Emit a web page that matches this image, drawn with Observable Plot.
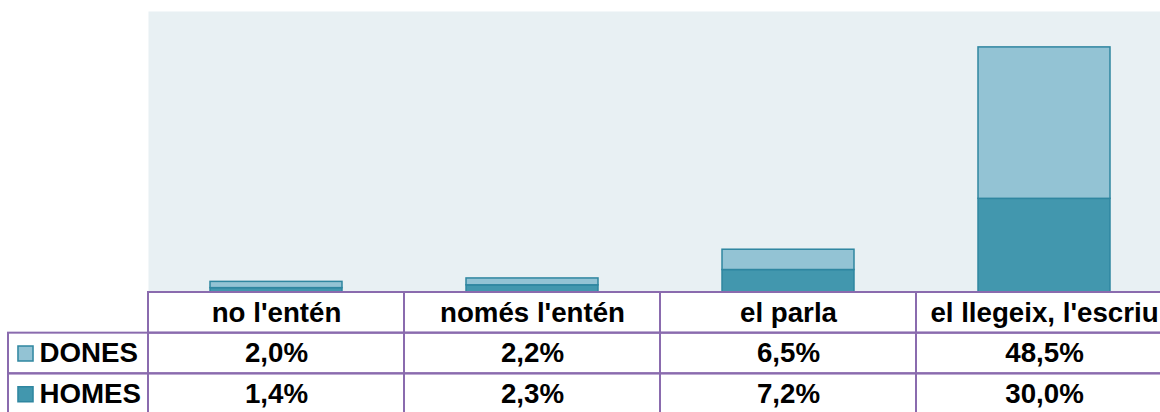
<!DOCTYPE html>
<html>
<head>
<meta charset="utf-8">
<script src="https://cdn.jsdelivr.net/npm/d3@7"></script>
<script src="https://cdn.jsdelivr.net/npm/@observablehq/plot@0.6"></script>
<style>
  html, body { margin: 0; padding: 0; background: #ffffff; overflow: hidden; }
  #wrap { width: 1160px; height: 412px; overflow: hidden; position: relative; }
  #wrap svg { display: block; max-width: none !important; }
</style>
</head>
<body>
<div id="wrap"></div>
<script>
// ---- data ----
const categories = ["no l'entén", "només l'entén", "el parla", "el llegeix, l'escriu"];
const series = ["DONES", "HOMES"];
const dones = [2.0, 2.2, 6.5, 48.5];
const homes = [1.4, 2.3, 7.2, 30.0];

// ---- styles ----
const colors = { DONES: "#93C3D4", HOMES: "#4297AE" };
const barStroke = "#2F86A0";
const lineColor = "#8A6BAE";
const bgColor = "#E8F0F3";
const font = "Liberation Sans, Arial, sans-serif";
const fs = 27.7;

const long = [];
categories.forEach((c, i) => {
  long.push({ cat: c, sex: "HOMES", value: homes[i] });
  long.push({ cat: c, sex: "DONES", value: dones[i] });
});

const wrap = document.getElementById("wrap");

// ---- bar chart ----
const chart = Plot.plot({
  width: 1172,
  height: 292,
  marginLeft: 148,
  marginRight: 0,
  marginTop: 11,
  marginBottom: 0,
  style: { fontFamily: font, background: "transparent", maxWidth: "none" },
  x: { domain: categories, paddingInner: 0.484, paddingOuter: 0.242, axis: null },
  y: { domain: [0, 90], axis: null },
  color: { domain: series, range: series.map(s => colors[s]) },
  marks: [
    Plot.frame({ fill: bgColor, stroke: null }),
    Plot.barY(long, Plot.stackY({
      x: "cat", y: "value", fill: "sex",
      order: ["HOMES", "DONES"],
      stroke: barStroke, strokeWidth: 1.5
    }))
  ]
});
wrap.appendChild(chart);

// ---- data table ----
const rows = ["header", ...series];
const labelW = 140 / 256;
const cells = [];
rows.forEach((r, ri) => {
  categories.forEach((c, ci) => {
    const text = r === "header" ? c
      : (r === "DONES" ? dones[ci] : homes[ci]).toFixed(1).replace(".", ",") + "%";
    cells.push({ x1: ci, x2: ci + 1, y1: ri, y2: ri + 1, text });
  });
});
const labelCells = series.map(s => ({ x1: -labelW, x2: 0, y1: rows.indexOf(s), y2: rows.indexOf(s) + 1, text: s }));

const table = Plot.plot({
  width: 1172,
  height: 124,
  marginLeft: 0,
  marginRight: 0,
  marginTop: 1,
  marginBottom: 0,
  style: { fontFamily: font, background: "transparent", overflow: "visible", maxWidth: "none" },
  x: { type: "linear", domain: [-labelW, categories.length], range: [8, 1172], axis: null },
  y: { type: "linear", domain: [0, rows.length], range: [1, 123], axis: null },
  marks: [
    Plot.rect(cells, { x1: "x1", x2: "x2", y1: "y1", y2: "y2", fill: "none", stroke: lineColor, strokeWidth: 2 }),
    Plot.rect(labelCells, { x1: "x1", x2: "x2", y1: "y1", y2: "y2", fill: "none", stroke: lineColor, strokeWidth: 2 }),
    Plot.text(cells, {
      x: d => (d.x1 + d.x2) / 2, y: d => (d.y1 + d.y2) / 2, text: "text",
      fontSize: fs, fontWeight: "bold", fill: "#000", textAnchor: "middle", lineAnchor: "middle"
    }),
    Plot.dot(labelCells, {
      x: "x1", y: d => (d.y1 + d.y2) / 2, symbol: "square", r: 8.5, dx: 17,
      fill: d => colors[d.text], stroke: barStroke, strokeWidth: 1.5
    }),
    Plot.text(labelCells, {
      x: "x1", y: d => (d.y1 + d.y2) / 2, text: "text", dx: 31,
      fontSize: fs, fontWeight: "bold", fill: "#000", textAnchor: "start", lineAnchor: "middle"
    })
  ]
});
table.style.marginTop = "-1px";
wrap.appendChild(table);
</script>
</body>
</html>
